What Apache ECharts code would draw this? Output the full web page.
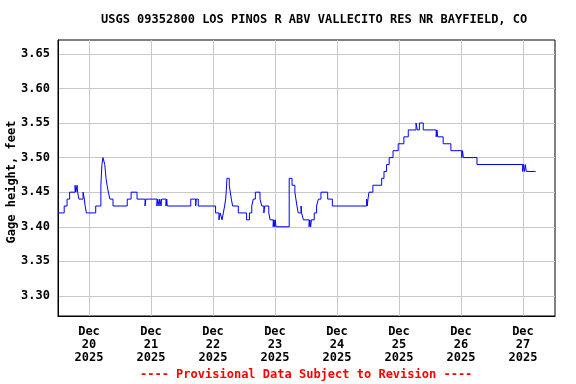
<!DOCTYPE html>
<html>
<head>
<meta charset="utf-8">
<script src="https://cdn.jsdelivr.net/npm/echarts@6/dist/echarts.min.js"></script>
<style>html,body{margin:0;padding:0;background:#fff}#c{width:576px;height:384px}</style>
</head>
<body>
<div id="c"></div>
<script>
// Hours since 2025-12-20 00:00 (local) at which the gage height changes
const hours = [-12,-9.6,-8.5,-7.5,-5.4,-5.1,-4.6,-4.4,-3.9,-2.3,-1.8,-1.5,-1.0,2.6,4.6,5.0,5.4,6.1,6.6,7.0,7.5,8.1,9.3,
  14.8,16.3,18.6,21.7,22.0,26.3,26.6,27.1,27.4,27.9,28.1,29.8,30.1,30.3,39.4,41.3,41.5,42.3,49.0,50.3,50.8,51.5,52.0,
  52.5,52.9,53.1,53.4,54.3,54.7,55.1,55.6,57.8,61.0,62.1,63.0,63.6,64.4,66.2,66.9,67.7,68.0,69.6,70.1,71.3,71.6,71.9,72.1,72.4,
  77.5,78.6,79.7,80.1,80.5,81.0,82.1,82.3,83.0,85.2,85.5,85.8,86.1,87.2,88.1,88.8,89.8,92.4,94.2,
  107.5,107.7,108.0,108.4,109.9,113.3,114.2,115.2,116.2,117.7,119.7,121.9,123.6,126.6,127.1,127.9,129.4,134.4,134.7,135.0,
  137.1,140.1,144.3,144.6,144.9,150.2,167.9,168.2,168.6,168.9,169.3,172.9];
const gage = [3.42,3.43,3.44,3.45,3.46,3.45,3.46,3.45,3.44,3.45,3.44,3.43,3.42,3.43,3.46,3.49,3.50,3.49,3.47,3.46,3.45,3.44,3.43,
  3.44,3.45,3.44,3.43,3.44,3.43,3.44,3.43,3.44,3.43,3.44,3.43,3.44,3.43,3.44,3.43,3.44,3.43,3.42,3.41,3.42,3.41,3.42,
  3.43,3.44,3.45,3.47,3.46,3.45,3.44,3.43,3.42,3.41,3.42,3.43,3.44,3.45,3.44,3.43,3.42,3.43,3.42,3.41,3.40,3.41,3.40,3.41,3.40,
  3.47,3.46,3.45,3.44,3.43,3.42,3.43,3.42,3.41,3.40,3.41,3.40,3.41,3.42,3.43,3.44,3.45,3.44,3.43,
  3.44,3.43,3.44,3.45,3.46,3.47,3.48,3.49,3.50,3.51,3.52,3.53,3.54,3.55,3.54,3.55,3.54,3.53,3.54,3.53,
  3.52,3.51,3.50,3.51,3.50,3.49,3.48,3.49,3.48,3.49,3.48,3.48];
const dayTicks = [0,24,48,72,96,120,144,168];
const dayLabels = ['Dec\n20\n2025','Dec\n21\n2025','Dec\n22\n2025','Dec\n23\n2025','Dec\n24\n2025','Dec\n25\n2025','Dec\n26\n2025','Dec\n27\n2025'];
const yTicks = [3.30,3.35,3.40,3.45,3.50,3.55,3.60,3.65];

const FONT = '"DejaVu Sans Mono", "Liberation Mono", monospace';
const chart = echarts.init(document.getElementById('c'), null, {renderer:'canvas'});
chart.setOption({
  animation: false,
  backgroundColor: '#fff',
  grid: {left: 58, right: 21, top: 40, bottom: 68, containLabel: false, outerBoundsMode: 'none',
    show: true, borderColor: '#000', borderWidth: 1, backgroundColor: 'transparent'},
  xAxis: {
    type: 'value', min: -12, max: 180.4,
    axisLine: {show: true, onZero: false, lineStyle: {color: '#000', width: 1}},
    axisTick: {show: false, customValues: dayTicks},
    axisLabel: {
      customValues: dayTicks, margin: 9,
      formatter: v => dayLabels[dayTicks.indexOf(Math.round(v))] || '',
      fontFamily: FONT, fontWeight: 'bold', fontSize: 12, color: '#000', lineHeight: 13
    },
    splitLine: {show: true, lineStyle: {color: '#c8c8c8', width: 1}}
  },
  yAxis: {
    type: 'value', min: 3.271, max: 3.670,
    name: 'Gage height, feet', nameLocation: 'middle', nameRotate: 90, nameGap: 40, nameMoveOverlap: false,
    nameTextStyle: {fontFamily: FONT, fontWeight: 'bold', fontSize: 12, color: '#000', padding: [0, 8, 0, 0]},
    axisLine: {show: true, onZero: false, lineStyle: {color: '#000', width: 1}},
    axisTick: {show: false, customValues: yTicks},
    axisLabel: {
      customValues: yTicks, margin: 8,
      formatter: v => v.toFixed(2),
      fontFamily: FONT, fontWeight: 'bold', fontSize: 12, color: '#000'
    },
    splitLine: {show: true, lineStyle: {color: '#c8c8c8', width: 1}}
  },
  series: [{
    type: 'line', step: 'end', showSymbol: false, symbol: 'none',
    data: hours.map((h, i) => [h, gage[i]]),
    lineStyle: {color: '#0000ff', width: 1},
    itemStyle: {color: '#0000ff'}
  }],
  graphic: [
    {type: 'text', left: 101, top: 14, style: {text: 'USGS 09352800 LOS PINOS R ABV VALLECITO RES NR BAYFIELD, CO', fontFamily: FONT, fontWeight: 'bold', fontSize: 12, fill: '#000'}},
    {type: 'text', left: 140, top: 369, style: {text: '---- Provisional Data Subject to Revision ----', fontFamily: FONT, fontWeight: 'bold', fontSize: 12, fill: '#ff0000'}}
  ]
});
</script>
</body>
</html>
